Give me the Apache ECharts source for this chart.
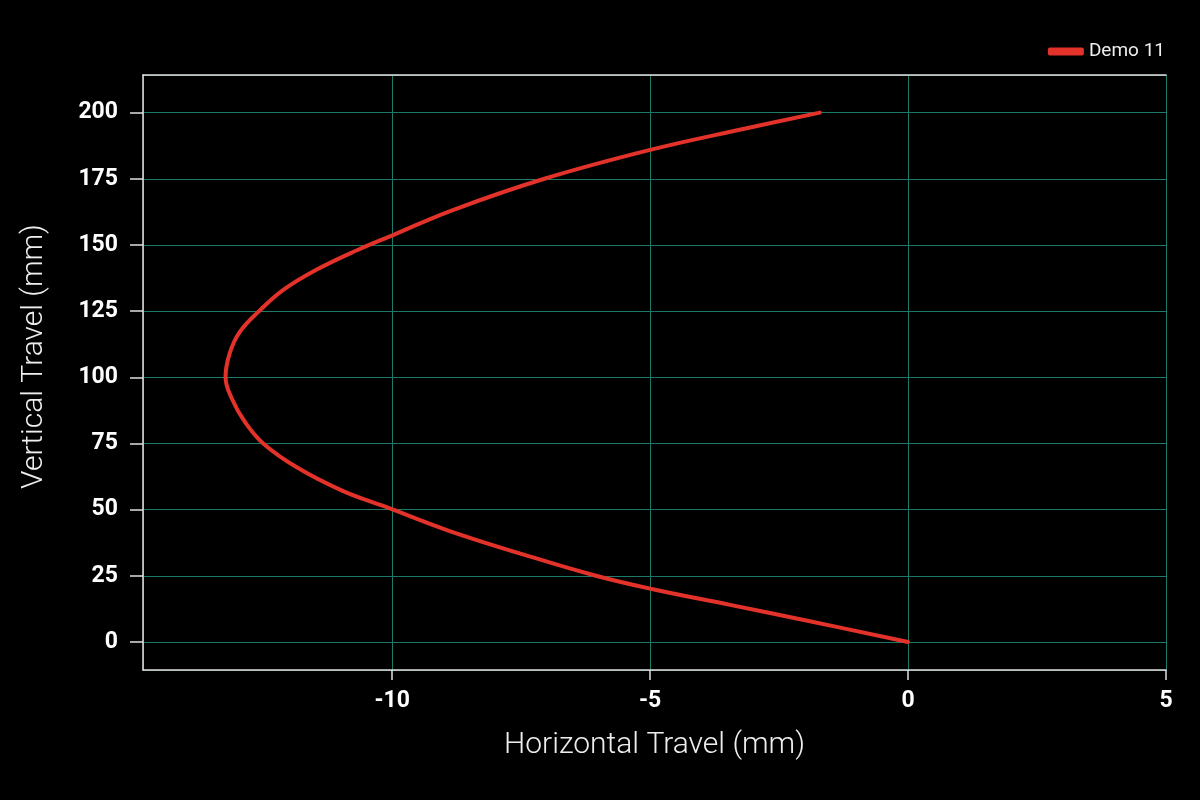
<!DOCTYPE html>
<html>
<head>
<meta charset="utf-8">
<script src="https://cdn.jsdelivr.net/npm/echarts@6/dist/echarts.min.js"></script>
<style>
  html, body { margin: 0; padding: 0; background: #000; }
  #chart { width: 1200px; height: 800px; }
</style>
</head>
<body>
<div id="chart"></div>
<script>
  // path, bottom to top
  var travelY = [0, 8, 14, 20, 25, 33, 42, 51, 57, 66, 75, 83, 91.6, 100, 109, 117, 125, 133, 140.6, 148, 154, 163, 175, 186, 194, 200]
  var travelX = [0, -1.95, -3.45, -4.97, -6.05, -7.45, -8.9, -10.12, -10.95, -11.85, -12.5, -12.85, -13.1, -13.23,
    -13.15, -12.96, -12.58, -12.11, -11.47, -10.68, -9.95, -8.85, -7.05, -4.98, -3.15, -1.71]
  var seriesName = 'Demo 11'

  var points = travelY.map(function(y, i) { return [travelX[i], y] })

  var gridColor = '#1d7a68'
  var axisColor = '#e0e0e0'
  var font = 'Roboto, "DejaVu Sans", sans-serif'

  var chart = echarts.init(document.getElementById('chart'))
  chart.setOption({
    backgroundColor: '#000',
    animation: false,
    grid: { left: 143, right: 34, top: 75, bottom: 130 },
    legend: {
      right: 30,
      top: 37,
      icon: 'roundRect',
      itemWidth: 36,
      itemHeight: 8,
      itemGap: 10,
      textStyle: { color: '#eeeeee', fontSize: 19, fontFamily: font },
      data: [seriesName]
    },
    xAxis: [{
      type: 'value',
      min: -14.83,
      max: 5,
      minInterval: 5,
      maxInterval: 5,
      name: 'Horizontal Travel (mm)',
      nameLocation: 'middle',
      nameGap: 60,
      nameTextStyle: { color: '#eeeeee', fontSize: 30, fontWeight: 300, fontFamily: font },
      axisLine: { show: true, onZero: false, lineStyle: { color: axisColor, width: 1.5 } },
      axisTick: { show: true, length: 10, lineStyle: { color: axisColor, width: 1.5 } },
      axisLabel: { color: '#ffffff', fontSize: 23, fontWeight: 'bold', fontFamily: font, margin: 20, showMinLabel: false },
      splitLine: { show: true, lineStyle: { color: gridColor, width: 1 } }
    }, {
      type: 'value',
      position: 'top',
      min: -14.83,
      max: 5,
      axisLine: { show: true, onZero: false, lineStyle: { color: axisColor, width: 1.5 } },
      axisTick: { show: false },
      axisLabel: { show: false },
      splitLine: { show: false }
    }],
    yAxis: {
      type: 'value',
      min: -10.6,
      max: 214.2,
      minInterval: 25,
      maxInterval: 25,
      name: 'Vertical Travel (mm)',
      nameLocation: 'middle',
      nameGap: 94,
      nameTextStyle: { color: '#eeeeee', fontSize: 30, fontWeight: 300, fontFamily: font, padding: [0, 0, 0, 32] },
      axisLine: { show: true, onZero: false, lineStyle: { color: axisColor, width: 1.5 } },
      axisTick: { show: true, length: 13, lineStyle: { color: axisColor, width: 1.5 } },
      axisLabel: { color: '#ffffff', fontSize: 23, fontWeight: 'bold', fontFamily: font, margin: 25, showMinLabel: false, showMaxLabel: false },
      splitLine: { show: true, lineStyle: { color: gridColor, width: 1 } }
    },
    series: [{
      name: seriesName,
      type: 'line',
      smooth: 0.4,
      symbol: 'none',
      color: '#e3322a',
      lineStyle: { color: '#e3322a', width: 4, cap: 'round' },
      data: points
    }]
  })
</script>
</body>
</html>
